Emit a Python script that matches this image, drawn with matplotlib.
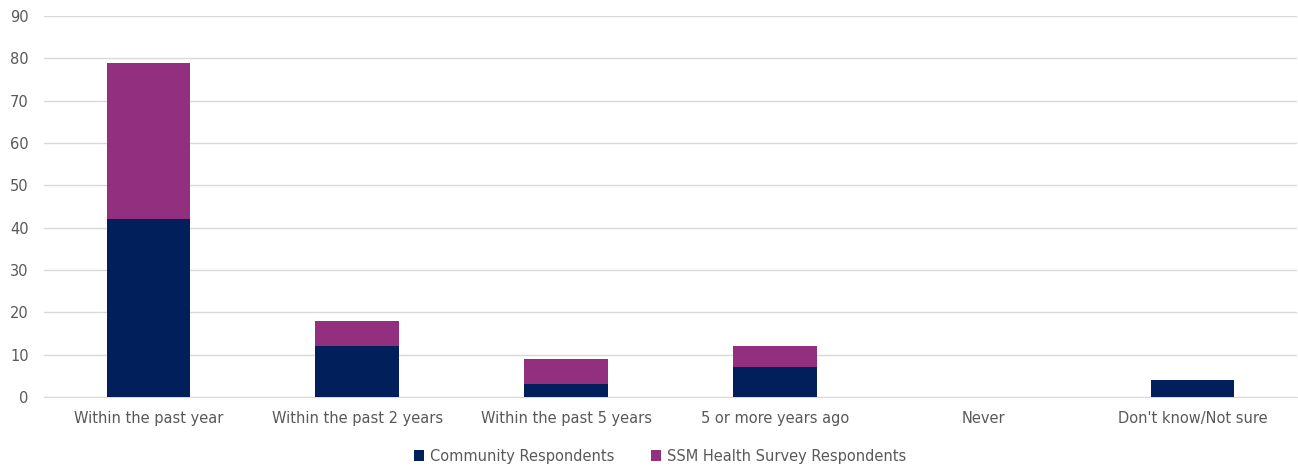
import numpy as np
import matplotlib.pyplot as plt

# Survey responses by category, two respondent groups stacked
categories = ['Within the past year', 'Within the past 2 years', 'Within the past 5 years',
              '5 or more years ago', 'Never', "Don't know/Not sure"]
community = [42, 12, 3, 7, 0, 4]
ssm_health = [37, 6, 6, 5, 0, 0]

navy = '#001f5b'
purple = '#92307f'
grey_text = '#595959'

fig = plt.figure(figsize=(12.98, 4.67), dpi=100)
ax = fig.add_axes([44 / 1298, 1 - 397 / 467, 1253 / 1298, 381 / 467])

x = np.arange(len(categories))
ax.bar(x, community, width=0.4, color=navy, label='Community Respondents', zorder=3)
ax.bar(x, ssm_health, width=0.4, bottom=community, color=purple,
       label='SSM Health Survey Respondents', zorder=3)

ax.set_xlim(-0.5, len(categories) - 0.5)
ax.set_ylim(0, 90)
ax.set_yticks(np.arange(0, 91, 10))
ax.set_xticks(x)
ax.set_xticklabels(categories)
ax.yaxis.grid(True, color='#d9d9d9', linewidth=1, zorder=0)
ax.tick_params(axis='both', length=0, colors=grey_text, labelsize=10.5)
ax.tick_params(axis='x', pad=10)
ax.tick_params(axis='y', pad=11)
for s in ['top', 'right', 'left']:
    ax.spines[s].set_visible(False)
ax.spines['bottom'].set_color('#d9d9d9')

leg = fig.legend(loc='center', bbox_to_anchor=(660 / 1298, 1 - 456 / 467), ncol=2,
                 frameon=False, fontsize=10.5, handlelength=0.7, handleheight=0.7,
                 columnspacing=2.5, handletextpad=0.4)
for t in leg.get_texts():
    t.set_color(grey_text)

fig.savefig('out.png', dpi=100)
